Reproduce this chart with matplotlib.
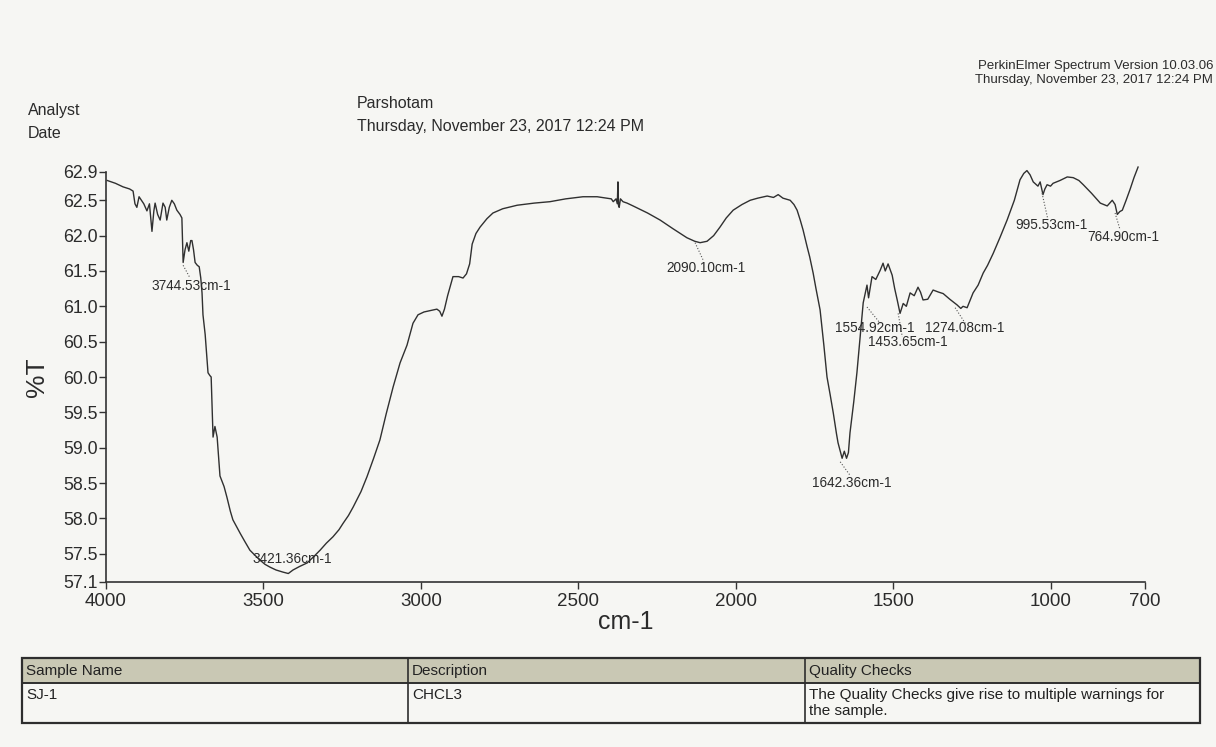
import matplotlib
matplotlib.use("Agg")
import matplotlib.pyplot as plt
from matplotlib.patches import Rectangle

plt.rcParams['font.family'] = ['Liberation Sans', 'DejaVu Sans']

# ---------------- data ----------------
wavenumber = [
    3996, 3970, 3946, 3925, 3914, 3908, 3902, 3895, 3880, 3870,
    3862, 3854, 3848, 3844, 3836, 3828, 3819, 3812, 3807, 3799,
    3791, 3783, 3775, 3765, 3759, 3755, 3749, 3743, 3737, 3731,
    3727, 3722, 3717, 3710, 3704, 3699, 3695, 3692, 3685, 3676,
    3670, 3666, 3660, 3654, 3647, 3638, 3625, 3616, 3605, 3597,
    3585, 3574, 3560, 3543, 3525, 3511, 3495, 3479, 3460, 3438,
    3421, 3406, 3385, 3361, 3340, 3320, 3300, 3279, 3260, 3247,
    3230, 3215, 3190, 3171, 3150, 3130, 3110, 3088, 3066, 3044,
    3025, 3009, 2990, 2970, 2949, 2940, 2933, 2925, 2915, 2898,
    2880, 2866, 2855, 2845, 2837, 2825, 2812, 2790, 2771, 2740,
    2694, 2640, 2590, 2540, 2485, 2440, 2409, 2395, 2389, 2380,
    2376, 2374, 2372, 2370, 2366, 2358, 2345, 2326, 2280, 2240,
    2200, 2155, 2130, 2113, 2091, 2070, 2050, 2030, 2008, 1980,
    1954, 1930, 1900, 1880, 1865, 1850, 1827, 1815, 1805, 1795,
    1786, 1773, 1765, 1754, 1745, 1738, 1732, 1720, 1710, 1700,
    1690, 1680, 1675, 1668, 1662, 1655, 1648, 1642, 1637, 1625,
    1615, 1605, 1595, 1588, 1583, 1578, 1567, 1555, 1541, 1532,
    1525, 1516, 1503, 1495, 1487, 1478, 1468, 1458, 1446, 1433,
    1421, 1413, 1405, 1390, 1373, 1355, 1341, 1320, 1297, 1285,
    1278, 1265, 1246, 1230, 1214, 1200, 1182, 1160, 1138, 1115,
    1097, 1085, 1075, 1065, 1055, 1040, 1033, 1024, 1018, 1011,
    1000, 992, 970, 947, 928, 910, 896, 870, 842, 820,
    804, 795, 788, 780, 772, 760, 747, 735, 722,
]
transmittance = [
    62.78, 62.74, 62.69, 62.66, 62.63, 62.45, 62.40, 62.55, 62.45, 62.35,
    62.45, 62.06, 62.35, 62.46, 62.30, 62.22, 62.46, 62.40, 62.22, 62.40,
    62.50, 62.45, 62.36, 62.30, 62.25, 61.62, 61.80, 61.90, 61.78, 61.93,
    61.93, 61.80, 61.62, 61.58, 61.56, 61.40, 61.19, 60.88, 60.60, 60.06,
    60.02, 60.00, 59.15, 59.30, 59.15, 58.60, 58.45, 58.30, 58.10, 57.98,
    57.88, 57.79, 57.68, 57.55, 57.47, 57.41, 57.35, 57.31, 57.27, 57.24,
    57.22, 57.27, 57.32, 57.37, 57.46, 57.55, 57.65, 57.74, 57.84, 57.93,
    58.04, 58.16, 58.38, 58.59, 58.85, 59.11, 59.48, 59.86, 60.20, 60.45,
    60.76, 60.88, 60.92, 60.94, 60.96, 60.93, 60.86, 60.96, 61.15, 61.42,
    61.42, 61.40, 61.46, 61.60, 61.88, 62.03, 62.12, 62.24, 62.32, 62.38,
    62.43, 62.46, 62.48, 62.52, 62.55, 62.55, 62.53, 62.52, 62.48, 62.52,
    62.45, 62.76, 62.42, 62.40, 62.52, 62.48, 62.46, 62.42, 62.32, 62.22,
    62.10, 61.97, 61.92, 61.90, 61.92, 62.00, 62.12, 62.25, 62.36, 62.44,
    62.50, 62.53, 62.56, 62.54, 62.58, 62.53, 62.50, 62.44, 62.36, 62.22,
    62.08, 61.84, 61.70, 61.47, 61.25, 61.09, 60.95, 60.45, 60.00, 59.75,
    59.49, 59.20, 59.07, 58.95, 58.85, 58.95, 58.85, 58.93, 59.21, 59.65,
    60.06, 60.55, 61.05, 61.20, 61.30, 61.12, 61.42, 61.38, 61.51, 61.61,
    61.50, 61.60, 61.44, 61.25, 61.09, 60.90, 61.04, 61.00, 61.19, 61.15,
    61.27, 61.20, 61.09, 61.10, 61.23, 61.20, 61.18, 61.10, 61.02, 60.97,
    61.00, 60.98, 61.19, 61.30, 61.47, 61.58, 61.75, 61.98, 62.22, 62.50,
    62.79, 62.88, 62.92, 62.86, 62.76, 62.70, 62.76, 62.58, 62.66, 62.72,
    62.70, 62.74, 62.78, 62.83, 62.82, 62.78, 62.72, 62.60, 62.46, 62.42,
    62.50, 62.44, 62.30, 62.34, 62.36, 62.50, 62.66, 62.82, 62.97,
]

peak_labels = ["3744.53cm-1", "3421.36cm-1", "2090.10cm-1", "1642.36cm-1",
               "1554.92cm-1", "1453.65cm-1", "1274.08cm-1", "995.53cm-1",
               "764.90cm-1"]
# label anchor (left, vertical centre) in data coords
label_x = [3854, 3536, 2221, 1757, 1684, 1579, 1398, 1112, 884]
label_y = [61.29, 57.43, 61.54, 58.50, 60.69, 60.50, 60.69, 62.15, 61.98]
# leader lines: peak point -> label
leader_x0 = [3755, None, 2129, 1668, 1583, 1484, 1303, 1027, 795]
leader_y0 = [61.58, None, 61.90, 58.80, 60.99, 60.90, 60.98, 62.60, 62.32]
leader_x1 = [3733, None, 2104, 1637, 1541, 1471, 1271, 1008, 779]
leader_y1 = [61.40, None, 61.66, 58.61, 60.76, 60.57, 60.76, 62.22, 62.08]

x_ticks = [4000, 3500, 3000, 2500, 2000, 1500, 1000, 700]
y_ticks = [57.1, 57.5, 58.0, 58.5, 59.0, 59.5, 60.0, 60.5, 61.0, 61.5, 62.0, 62.5, 62.9]

table_headers = ["Sample Name", "Description", "Quality Checks"]
table_values = ["SJ-1", "CHCL3",
                "The Quality Checks give rise to multiple warnings for\nthe sample."]

# ---------------- figure ----------------
W, H = 1216, 747
fig = plt.figure(figsize=(W / 100, H / 100), dpi=100)
fig.patch.set_facecolor('#f6f6f3')

# overlay axes in pixel coordinates for header and table
bg = fig.add_axes([0, 0, 1, 1], zorder=0)
bg.set_xlim(0, W)
bg.set_ylim(H, 0)
bg.axis('off')

ink = '#2b2b2b'
bg.text(28, 111, "Analyst", fontsize=11.5, color=ink, va='center', ha='left')
bg.text(28, 133, "Date", fontsize=11.5, color=ink, va='center', ha='left')
bg.text(357, 103, "Parshotam", fontsize=11.5, color=ink, va='center', ha='left')
bg.text(357, 126, "Thursday, November 23, 2017 12:24 PM", fontsize=11.5,
        color=ink, va='center', ha='left')
bg.text(1213, 66, "PerkinElmer Spectrum Version 10.03.06", fontsize=9.5,
        color=ink, va='center', ha='right')
bg.text(1213, 80, "Thursday, November 23, 2017 12:24 PM", fontsize=9.5,
        color=ink, va='center', ha='right')

# table
tl, tr, tt, th, tb = 22, 1200, 658, 683, 723
cols = [22, 408, 805, 1200]
bg.add_patch(Rectangle((tl, tt), tr - tl, th - tt, facecolor='#c9c8b4',
                       edgecolor='none'))
bg.add_patch(Rectangle((tl, tt), tr - tl, tb - tt, facecolor='none',
                       edgecolor='#2e2e2e', lw=1.6))
bg.plot([tl, tr], [th, th], color='#2e2e2e', lw=1.4)
for c in cols[1:-1]:
    bg.plot([c, c], [tt, tb], color='#2e2e2e', lw=1.2)
for i in range(3):
    bg.text(cols[i] + 4, (tt + th) / 2 + 1, table_headers[i], fontsize=11,
            color='#222222', va='center', ha='left')
    bg.text(cols[i] + 4, th + 5, table_values[i], fontsize=11,
            color='#222222', va='top', ha='left', linespacing=1.2)

# main spectrum axes
ax = fig.add_axes([106 / W, 1 - 582 / H, (1145 - 106) / W, (582 - 172) / H],
                  zorder=1)
ax.patch.set_alpha(0)
ax.plot(wavenumber, transmittance, color='#303030', lw=1.0, clip_on=False)
ax.set_xlim(4000, 700)
ax.set_ylim(57.1, 62.9)
ax.set_xticks(x_ticks)
ax.set_xticklabels([str(v) for v in x_ticks])
ax.set_yticks(y_ticks)
ax.set_yticklabels([f"{v:.1f}" for v in y_ticks])
for s in ['top', 'right']:
    ax.spines[s].set_visible(False)
for s in ['left', 'bottom']:
    ax.spines[s].set_color('#333333')
    ax.spines[s].set_linewidth(1.2)
ax.tick_params(axis='both', direction='out', colors='#333333', length=5,
               width=1.0, labelcolor='#2b2b2b')
ax.tick_params(axis='y', labelsize=12.8, pad=1)
ax.tick_params(axis='x', labelsize=13.5, pad=3)
ax.set_xlabel("cm-1", fontsize=18, color='#2b2b2b', labelpad=0)
ax.set_ylabel("%T", fontsize=19, color='#2b2b2b', labelpad=10)

for i, lab in enumerate(peak_labels):
    ax.text(label_x[i], label_y[i], lab, fontsize=9.8, color='#2b2b2b',
            ha='left', va='center')
    if leader_x0[i] is not None:
        ax.plot([leader_x0[i], leader_x1[i]], [leader_y0[i], leader_y1[i]],
                color='#555555', lw=0.8, ls=':')

fig.savefig("out.png", dpi=100, facecolor=fig.get_facecolor())
